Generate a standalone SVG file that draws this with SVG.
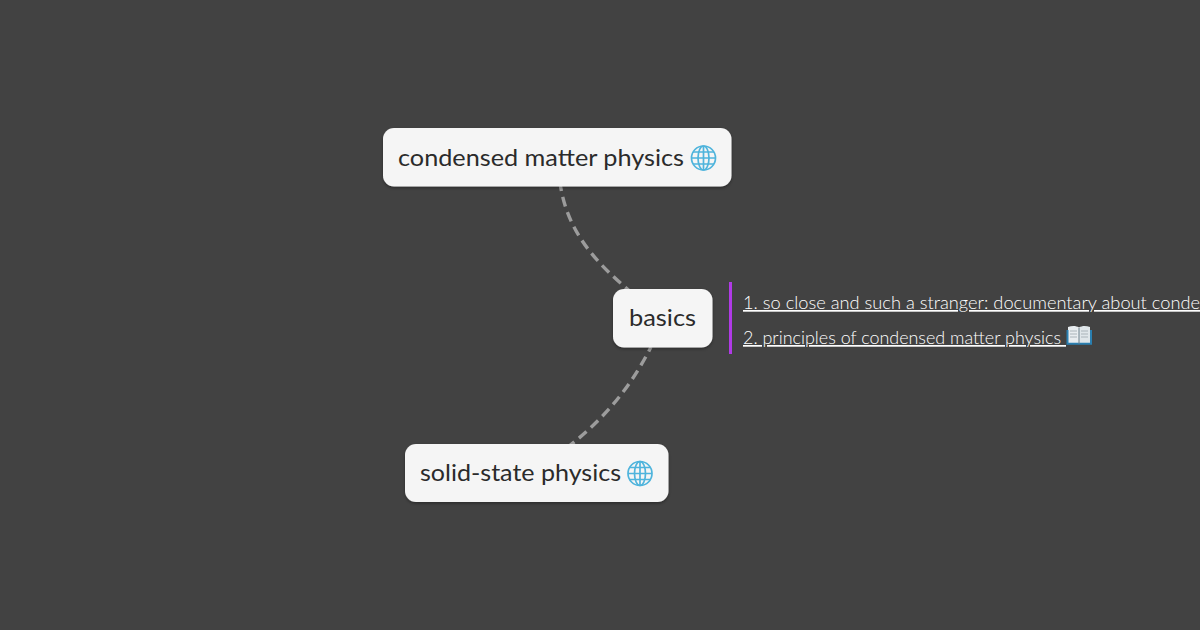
<svg xmlns="http://www.w3.org/2000/svg" width="1200" height="630" viewBox="0 0 1200 630">
<defs>
<style>
.box{fill:#f5f5f5;filter:url(#sh)}
.lbl{font-family:"Lato","Liberation Sans",sans-serif;font-size:24px;font-weight:400;fill:#2b2b2b}
.lnk{font-family:"Lato","Liberation Sans",sans-serif;font-size:17px;font-weight:300;fill:#ffffff;text-decoration:underline;white-space:pre}
.edge{fill:none;stroke:#9c9c9c;stroke-width:3.4;stroke-dasharray:10 6;stroke-dashoffset:5}
.g1{fill:none;stroke:#4fb4dc;stroke-width:1.7}
</style>
<filter id="sh" x="-10%" y="-20%" width="120%" height="150%"><feDropShadow dx="0" dy="1.500" stdDeviation="1.500" flood-color="#000" flood-opacity=".35"/></filter>
<g id="globe">
<circle r="12" fill="#cfeaf6" class="g1"/>
<ellipse rx="5.5" ry="12" class="g1"/>
<path d="M0-12V12M-12 0H12M-10.500-6H10.500M-10.500 6H10.500" class="g1"/>
</g>
</defs>
<rect width="1200" height="630" fill="#424242"/>
<g id="connectors">
<path class="edge" d="M560.500 186C568 232 595 262 632 293"/>
<path class="edge" d="M651 347C630 388 605 418 568 447"/>
</g>
<g id="node-condensed"><rect class="box" x="383" y="128" width="348.500" height="58.500" rx="11"/>
<text class="lbl" x="398" y="166" textLength="286" lengthAdjust="spacingAndGlyphs">condensed matter physics</text>
<use href="#globe" x="703.500" y="158"/></g>
<g id="node-basics"><rect class="box" x="613" y="289" width="99.500" height="58.500" rx="11"/>
<text class="lbl" x="629" y="326" textLength="67" lengthAdjust="spacingAndGlyphs">basics</text></g>
<g id="node-solid"><rect class="box" x="405" y="444" width="263.500" height="58" rx="11"/>
<text class="lbl" x="420" y="481" textLength="201" lengthAdjust="spacingAndGlyphs">solid-state physics</text>
<use href="#globe" x="640" y="473.500"/></g>
<g id="notes">
<rect x="729" y="282" width="3" height="72" fill="#b03ae6"/>
<text class="lnk" x="743" y="309" textLength="457" lengthAdjust="spacingAndGlyphs">1. so close and such a stranger: documentary about conde</text>
<text class="lnk" x="743" y="344" textLength="323" lengthAdjust="spacingAndGlyphs">2. principles of condensed matter physics </text>
<g id="book">
<path d="M1068 327c4-1.500 8-1.500 11 .5v16h-11z" fill="#e8edf0"/>
<path d="M1090 327c-4-1.500-8-1.500-11 .5v16h11z" fill="#dfe6ea"/>
<path d="M1067.500 330v13.800h23.500V330" fill="none" stroke="#2a7fb0" stroke-width="2"/>
<path d="M1070 331h7M1070 334h7M1070 337h7M1081 331h7M1081 334h7M1081 337h7" stroke="#aab4ba" stroke-width="1"/>
<path d="M1079 328v16" stroke="#6b7f8a" stroke-width="1"/>
</g>
</g>
</svg>
